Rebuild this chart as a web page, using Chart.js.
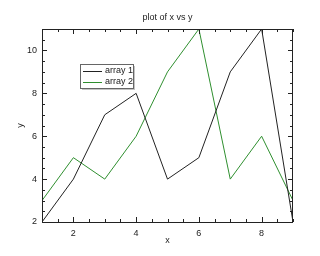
<!DOCTYPE html>
<html>
  <head>
    <title>plot of x vs y</title>
    <script src="https://cdn.jsdelivr.net/npm/chart.js"></script>
    <style>
      html, body { margin: 0; padding: 0; background: #fff; }
      #wrap { width: 320px; height: 256px; }
    </style>
  </head>
  <body>
    <div id="wrap"><canvas id="myChart" width="320" height="256"></canvas></div>

    <script>
      const xValues = [1, 2, 3, 4, 5, 6, 7, 8, 9];
      const array1 = [2, 4, 7, 8, 4, 5, 9, 11, 2];
      const array2 = [3, 5, 4, 6, 9, 11, 4, 6, 3];
      const xTicks = [2, 4, 6, 8];
      const yTicks = [2, 4, 6, 8, 10];
      const seriesNames = ["array 1", "array 2"];
      const seriesColors = ["#222222", "#2f8f2f"];

      const FONT = "Liberation Sans, Arial, sans-serif";

      // inward ticks on all four sides, title and the boxed legend
      const framePlugin = {
        id: "frame",
        afterDraw(chart) {
          const ctx = chart.ctx;
          const a = chart.chartArea;
          const xs = chart.scales.x, ys = chart.scales.y;
          ctx.save();
          ctx.strokeStyle = "#222";
          ctx.lineWidth = 1;
          ctx.beginPath();
          for (let v = xs.min; v <= xs.max + 1e-9; v += 0.5) {
            const p = Math.round(xs.getPixelForValue(v)) + 0.5;
            const len = xTicks.includes(v) ? 5 : 3;
            ctx.moveTo(p, a.bottom); ctx.lineTo(p, a.bottom - len);
            ctx.moveTo(p, a.top); ctx.lineTo(p, a.top + len);
          }
          for (let v = ys.min; v <= ys.max + 1e-9; v += 0.5) {
            const p = Math.round(ys.getPixelForValue(v)) + 0.5;
            const len = yTicks.includes(v) ? 5 : 3;
            ctx.moveTo(a.left, p); ctx.lineTo(a.left + len, p);
            ctx.moveTo(a.right, p); ctx.lineTo(a.right - len, p);
          }
          ctx.stroke();
          ctx.strokeRect(a.left + 0.5, a.top + 0.5, a.right - a.left - 1, a.bottom - a.top);

          // title
          ctx.fillStyle = "#222";
          ctx.font = "9px " + FONT;
          ctx.textAlign = "center";
          ctx.textBaseline = "middle";
          ctx.fillText("plot of x vs y", (a.left + a.right) / 2, 18);

          // legend box
          const bx = 80, by = 64, bw = 53, bh = 24;
          ctx.fillStyle = "#c4c4c4";
          ctx.fillRect(bx + 2, by + 2, bw, bh);
          ctx.fillStyle = "#fff";
          ctx.fillRect(bx, by, bw, bh);
          ctx.strokeStyle = "#666";
          ctx.strokeRect(bx + 0.5, by + 0.5, bw, bh);
          ctx.textAlign = "left";
          seriesNames.forEach((name, i) => {
            const yy = by + 7 + i * 11;
            ctx.strokeStyle = seriesColors[i];
            ctx.beginPath();
            ctx.moveTo(bx + 3, yy + 0.5);
            ctx.lineTo(bx + 22, yy + 0.5);
            ctx.stroke();
            ctx.fillStyle = "#222";
            ctx.fillText(name, bx + 25, yy);
          });
          ctx.restore();
        }
      };

      const ctx = document.getElementById("myChart").getContext("2d");
      const myChart = new Chart(ctx, {
        type: "line",
        data: {
          datasets: seriesNames.map((name, i) => ({
            label: name,
            data: xValues.map((x, j) => ({ x: x, y: (i === 0 ? array1 : array2)[j] })),
            borderColor: seriesColors[i],
            borderWidth: 1,
            pointRadius: 0,
            tension: 0,
            fill: false
          }))
        },
        options: {
          responsive: false,
          animation: false,
          layout: { padding: { left: 0, right: 27, top: 29, bottom: 0 } },
          plugins: { legend: { display: false }, title: { display: false }, tooltip: { enabled: false } },
          scales: {
            x: {
              type: "linear",
              min: 1,
              max: 9,
              afterBuildTicks: (s) => { s.ticks = xTicks.map((v) => ({ value: v })); },
              afterFit: (s) => { s.height = 34; },
              grid: { display: false, drawTicks: false },
              border: { display: false },
              ticks: { color: "#222", font: { family: FONT, size: 9 }, padding: 6, maxRotation: 0 },
              title: { display: true, text: "x", color: "#222", font: { family: FONT, size: 9 }, padding: { top: 0, bottom: 10 } }
            },
            y: {
              type: "linear",
              min: 2,
              max: 11,
              afterBuildTicks: (s) => { s.ticks = yTicks.map((v) => ({ value: v })); },
              afterFit: (s) => { s.width = 42; },
              grid: { display: false, drawTicks: false },
              border: { display: false },
              ticks: { color: "#222", font: { family: FONT, size: 9 }, padding: 5 },
              title: { display: true, text: "y", color: "#222", font: { family: FONT, size: 9 }, padding: { top: 15, bottom: 0 } }
            }
          }
        },
        plugins: [framePlugin]
      });
    </script>
  </body>
</html>
